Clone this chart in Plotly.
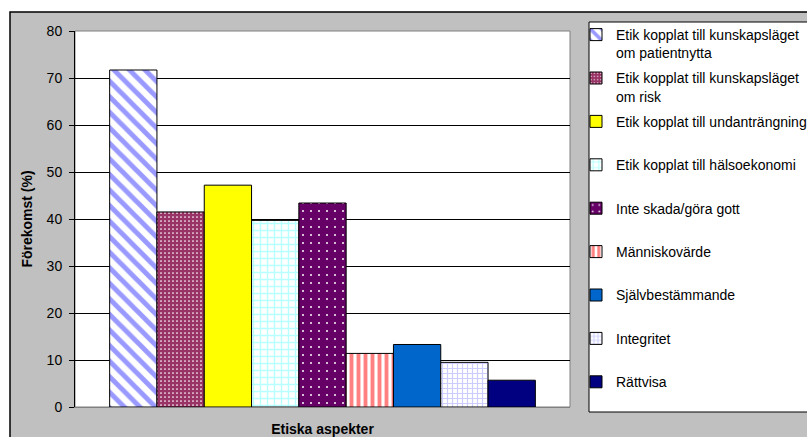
import plotly.graph_objects as go

# Share of documents (%) in which each ethical aspect occurs
aspects = [
    "Etik kopplat till kunskapsläget<br>om patientnytta",
    "Etik kopplat till kunskapsläget<br>om risk",
    "Etik kopplat till undanträngning",
    "Etik kopplat till hälsoekonomi",
    "Inte skada/göra gott",
    "Människovärde",
    "Självbestämmande",
    "Integritet",
    "Rättvisa",
]
values = [71.7, 41.5, 47.2, 39.7, 43.4, 11.4, 13.3, 9.5, 5.7]
y_ticks = [0, 10, 20, 30, 40, 50, 60, 70, 80]

# Fill style per bar: (background, pattern colour, pattern shape, size, solidity)
fills = [
    ("#FFFFFF", "#9999FF", "\\", 11, 0.45),
    ("#993366", "#FFFFFF", ".", 4, 0.15),
    ("#FFFF00", None, "", 8, 0.3),
    ("#FFFFFF", "#B8FFFF", "+", 7, 0.35),
    ("#660066", "#FFFFFF", ".", 8, 0.05),
    ("#FFFFFF", "#FF8080", "|", 7, 0.55),
    ("#0066CC", None, "", 8, 0.3),
    ("#FFFFFF", "#CCCCFF", "+", 5, 0.4),
    ("#000080", None, "", 8, 0.3),
]

W, H = 807, 437
ML, MR, MT, MB = 75, 237, 31, 30
PW, PH = W - ML - MR, H - MT - MB


def px(x):
    return (x - ML) / PW


def py(y):
    return (H - MB - y) / PH


FONT = "Liberation Sans, Arial, sans-serif"

fig = go.Figure()
n = len(aspects)
for i, (name, val) in enumerate(zip(aspects, values)):
    bg, fg, shape, size, sol = fills[i]
    # single-line entries get an empty second line so every entry is equally tall
    label = name if ("<br>" in name or i == n - 1) else name + "<br> "
    marker = dict(color=bg, line=dict(color="#000000", width=1))
    if shape:
        marker["pattern"] = dict(shape=shape, fgcolor=fg, fgopacity=1,
                                 bgcolor=bg, size=size, solidity=sol,
                                 fillmode="replace")
    fig.add_trace(go.Bar(
        x=[0], y=[val], name=label, marker=marker,
        legendgroup=f"g{i}", hoverinfo="skip",
    ))

shapes = [
    # grey chart area with black frame
    dict(type="rect", xref="paper", yref="paper", layer="below",
         x0=px(10), x1=px(W + 10), y0=py(H + 10), y1=py(12),
         fillcolor="#C0C0C0", line=dict(color="#000000", width=1.5)),
    # white plot area
    dict(type="rect", xref="paper", yref="paper", layer="below",
         x0=0, x1=1, y0=0, y1=1,
         fillcolor="#FFFFFF", line=dict(color="#808080", width=1)),
    # legend box
    dict(type="rect", xref="paper", yref="paper", layer="below",
         x0=px(589), x1=px(W + 10), y0=py(412), y1=py(22),
         fillcolor="#FFFFFF", line=dict(color="#000000", width=1)),
]

fig.update_layout(
    width=W, height=H,
    margin=dict(l=ML, r=MR, t=MT, b=MB, autoexpand=False),
    paper_bgcolor="#FFFFFF",
    plot_bgcolor="rgba(0,0,0,0)",
    barmode="group",
    bargap=0.14,
    bargroupgap=0,
    font=dict(family=FONT, size=14, color="#000000"),
    shapes=shapes,
    showlegend=True,
    legend=dict(
        x=px(576), xanchor="left",
        yref="container", y=1 - 19 / H, yanchor="top",
        maxheight=420,
        bgcolor="rgba(0,0,0,0)", borderwidth=0,
        font=dict(family=FONT, size=14, color="#000000"),
        tracegroupgap=4, valign="top", traceorder="grouped",
    ),
    xaxis=dict(
        range=[-0.5, 0.5], showticklabels=False, ticks="",
        showgrid=False, zeroline=False,
        showline=True, linecolor="#808080", linewidth=1,
        title=dict(text="<b>Etiska aspekter</b>", standoff=19,
                   font=dict(family=FONT, size=14)),
    ),
    yaxis=dict(
        range=[0, 80], tickvals=y_ticks, ticks="outside", ticklen=5,
        tickcolor="#000000", ticklabelstandoff=4,
        showgrid=True, gridcolor="#000000", gridwidth=1,
        zeroline=False, showline=True, linecolor="#000000", linewidth=1,
        tickfont=dict(family=FONT, size=14),
        title=dict(text="<b>Förekomst (%)</b>", standoff=10,
                   font=dict(family=FONT, size=14)),
    ),
)

fig.write_html("out.html")
